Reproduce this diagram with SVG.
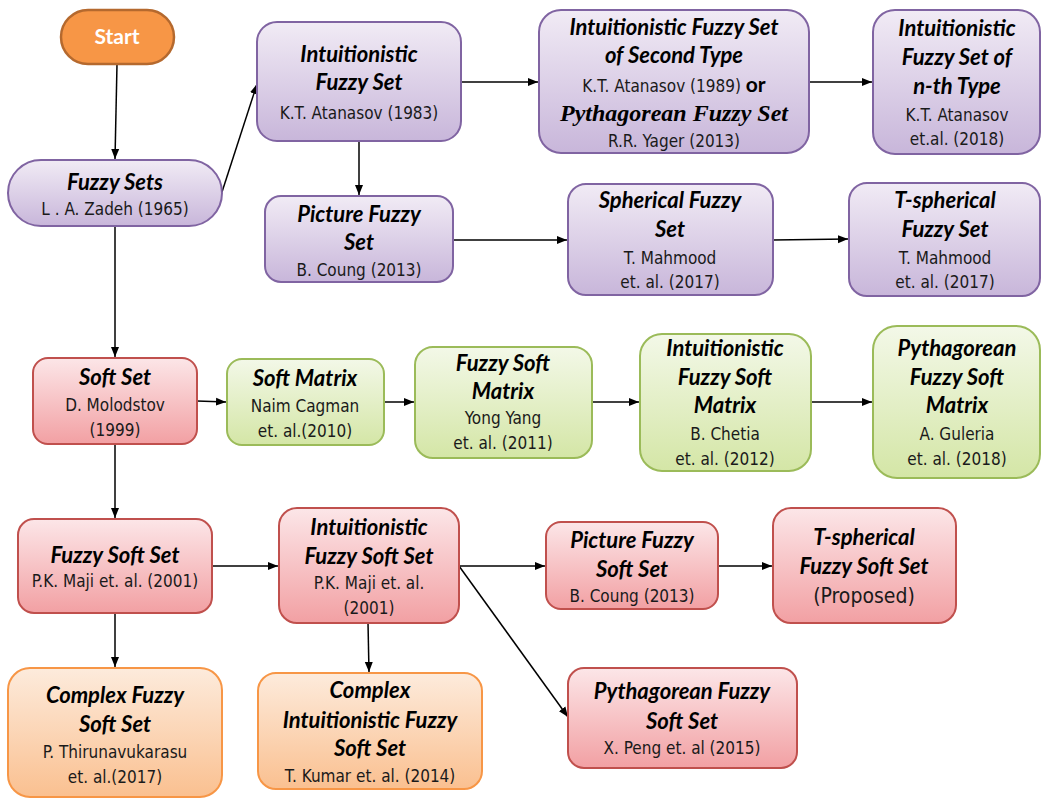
<svg xmlns="http://www.w3.org/2000/svg" width="1041" height="799" viewBox="0 0 1041 799">
<defs>
<linearGradient id="gP" x1="0" y1="0" x2="0" y2="1"><stop offset="0" stop-color="#F1EBF5"/><stop offset="1" stop-color="#C8B6DA"/></linearGradient>
<linearGradient id="gR" x1="0" y1="0" x2="0" y2="1"><stop offset="0" stop-color="#FCE6E8"/><stop offset="1" stop-color="#F2A0A3"/></linearGradient>
<linearGradient id="gG" x1="0" y1="0" x2="0" y2="1"><stop offset="0" stop-color="#F3F8E8"/><stop offset="1" stop-color="#D4E6A6"/></linearGradient>
<linearGradient id="gO" x1="0" y1="0" x2="0" y2="1"><stop offset="0" stop-color="#FDEBDC"/><stop offset="1" stop-color="#FAC090"/></linearGradient>
<marker id="ah" viewBox="0 0 10 10" refX="10" refY="5" markerWidth="10" markerHeight="10" markerUnits="userSpaceOnUse" orient="auto"><path d="M0,1 L10,5 L0,9 Z" fill="#000"/></marker>
<style>
.p{fill:url(#gP);stroke:#8064A2;stroke-width:2}
.r{fill:url(#gR);stroke:#C0504D;stroke-width:2}
.g{fill:url(#gG);stroke:#9BBB59;stroke-width:2}
.o{fill:url(#gO);stroke:#F79646;stroke-width:2}
.t{font-family:Lato,"Open Sans",sans-serif;font-weight:bold;font-style:italic;font-size:22px;fill:#000;text-anchor:middle}
.a{font-family:"Liberation Sans Narrow","DejaVu Sans Condensed","DejaVu Sans",sans-serif;font-stretch:condensed;font-size:17px;fill:#1a1a1a;text-anchor:middle}
.s{font-family:"Liberation Serif",serif;font-weight:bold;font-style:italic;font-size:24px;fill:#000;text-anchor:middle}
.or{font-family:Lato,"Open Sans",sans-serif;font-weight:bold;font-size:21px;fill:#000}
.c line{stroke:#000;stroke-width:1.5;fill:none;marker-end:url(#ah)}
</style>
</defs>
<rect width="1041" height="799" fill="#fff"/>
<g class="c">
<line x1="117" y1="64" x2="115" y2="159"/>
<line x1="222" y1="192" x2="257" y2="84"/>
<line x1="461" y1="82" x2="538" y2="82"/>
<line x1="359" y1="141" x2="359" y2="195"/>
<line x1="453" y1="240" x2="567" y2="240"/>
<line x1="773" y1="240" x2="848" y2="239"/>
<line x1="809" y1="82" x2="872" y2="82"/>
<line x1="115" y1="226" x2="115" y2="357"/>
<line x1="197" y1="401" x2="226" y2="402"/>
<line x1="384" y1="402" x2="414" y2="402"/>
<line x1="592" y1="402" x2="639" y2="402"/>
<line x1="811" y1="402" x2="872" y2="402"/>
<line x1="115" y1="444" x2="115" y2="518"/>
<line x1="212" y1="566" x2="278" y2="566"/>
<line x1="115" y1="613" x2="115" y2="667"/>
<line x1="368" y1="623" x2="369" y2="672"/>
<line x1="459" y1="566" x2="545" y2="566"/>
<line x1="459" y1="566" x2="568" y2="717"/>
<line x1="718" y1="566" x2="772" y2="566"/>
</g>
<g id="start"><rect x="61" y="10" width="113" height="54" rx="27" fill="#F79646" stroke="#B5692E" stroke-width="2.5"/><text x="117" y="44" style="font-family:Lato,'Open Sans',sans-serif;font-weight:bold;font-size:21px;fill:#fff;text-anchor:middle">Start</text></g>
<g id="fuzzy-sets"><rect class="p" x="8" y="160" width="214" height="66" rx="33"/><text class="t" x="115" y="190">Fuzzy Sets</text><text class="a" x="115" y="215">L . A.  Zadeh (1965)</text></g>
<g id="ifs"><rect class="p" x="257" y="22" width="204" height="119" rx="20"/><text class="t" x="359" y="62">Intuitionistic</text><text class="t" x="359" y="90">Fuzzy Set</text><text class="a" x="359" y="119">K.T. Atanasov (1983)</text></g>
<g id="picture-fs"><rect class="p" x="265" y="196" width="188" height="86" rx="16"/><text class="t" x="359" y="222">Picture Fuzzy</text><text class="t" x="359" y="250">Set</text><text class="a" x="359" y="276">B. Coung (2013)</text></g>
<g id="ifs2"><rect class="p" x="539" y="10" width="270" height="143" rx="22"/><text class="t" x="674" y="35">Intuitionistic Fuzzy Set</text><text class="t" x="674" y="63">of Second Type</text><text class="a" x="674" y="92">K.T.  Atanasov (1989) <tspan class="or">or</tspan></text><text class="s" x="674" y="121">Pythagorean Fuzzy Set</text><text class="a" x="674" y="147">R.R. Yager (2013)</text></g>
<g id="ifsn"><rect class="p" x="873" y="10" width="167" height="144" rx="22"/><text class="t" x="957" y="36">Intuitionistic</text><text class="t" x="957" y="65">Fuzzy Set of</text><text class="t" x="957" y="94">n-th Type</text><text class="a" x="957" y="121">K.T. Atanasov</text><text class="a" x="957" y="145">et.al. (2018)</text></g>
<g id="spherical"><rect class="p" x="568" y="184" width="205" height="111" rx="18"/><text class="t" x="670" y="208">Spherical Fuzzy</text><text class="t" x="670" y="237">Set</text><text class="a" x="670" y="264">T. Mahmood</text><text class="a" x="670" y="288">et. al. (2017)</text></g>
<g id="t-spherical"><rect class="p" x="849" y="183" width="191" height="113" rx="18"/><text class="t" x="945" y="208">T-spherical</text><text class="t" x="945" y="237">Fuzzy Set</text><text class="a" x="945" y="264">T. Mahmood</text><text class="a" x="945" y="288">et. al. (2017)</text></g>
<g id="soft-set"><rect class="r" x="33" y="358" width="164" height="86" rx="15"/><text class="t" x="115" y="385">Soft Set</text><text class="a" x="115" y="411">D. Molodstov</text><text class="a" x="115" y="436">(1999)</text></g>
<g id="soft-matrix"><rect class="g" x="227" y="359" width="157" height="86" rx="15"/><text class="t" x="305" y="386">Soft Matrix</text><text class="a" x="305" y="412">Naim Cagman</text><text class="a" x="305" y="437">et. al.(2010)</text></g>
<g id="fsm"><rect class="g" x="415" y="347" width="177" height="111" rx="18"/><text class="t" x="503" y="371">Fuzzy Soft</text><text class="t" x="503" y="399">Matrix</text><text class="a" x="503" y="424">Yong Yang</text><text class="a" x="503" y="449">et. al. (2011)</text></g>
<g id="ifsm"><rect class="g" x="640" y="334" width="171" height="137" rx="22"/><text class="t" x="725" y="356">Intuitionistic</text><text class="t" x="725" y="385">Fuzzy Soft</text><text class="t" x="725" y="413">Matrix</text><text class="a" x="725" y="440">B. Chetia</text><text class="a" x="725" y="465">et. al. (2012)</text></g>
<g id="pfsm"><rect class="g" x="873" y="326" width="167" height="152" rx="24"/><text class="t" x="957" y="356">Pythagorean</text><text class="t" x="957" y="385">Fuzzy Soft</text><text class="t" x="957" y="413">Matrix</text><text class="a" x="957" y="440">A. Guleria</text><text class="a" x="957" y="465">et. al. (2018)</text></g>
<g id="fss"><rect class="r" x="18" y="519" width="194" height="94" rx="16"/><text class="t" x="115" y="563">Fuzzy Soft Set</text><text class="a" x="115" y="587">P.K. Maji  et. al. (2001)</text></g>
<g id="ifss"><rect class="r" x="279" y="508" width="180" height="115" rx="18"/><text class="t" x="369" y="535">Intuitionistic</text><text class="t" x="369" y="564">Fuzzy Soft Set</text><text class="a" x="369" y="589">P.K. Maji et. al.</text><text class="a" x="369" y="614">(2001)</text></g>
<g id="picture-fss"><rect class="r" x="546" y="522" width="172" height="87" rx="15"/><text class="t" x="632" y="548">Picture Fuzzy</text><text class="t" x="632" y="577">Soft Set</text><text class="a" x="632" y="602">B. Coung (2013)</text></g>
<g id="t-spherical-fss"><rect class="r" x="773" y="508" width="183" height="115" rx="18"/><text class="t" x="864" y="545">T-spherical</text><text class="t" x="864" y="574">Fuzzy Soft Set</text><text class="a" x="864" y="603" style="font-size:21px">(Proposed)</text></g>
<g id="complex-fss"><rect class="o" x="8" y="668" width="214" height="129" rx="22"/><text class="t" x="115" y="703">Complex Fuzzy</text><text class="t" x="115" y="732">Soft Set</text><text class="a" x="115" y="758">P. Thirunavukarasu</text><text class="a" x="115" y="783">et. al.(2017)</text></g>
<g id="complex-ifss"><rect class="o" x="258" y="673" width="224" height="116" rx="18"/><text class="t" x="370" y="698">Complex</text><text class="t" x="370" y="728">Intuitionistic Fuzzy</text><text class="t" x="370" y="756">Soft Set</text><text class="a" x="370" y="782">T. Kumar et. al. (2014)</text></g>
<g id="pyth-fss"><rect class="r" x="568" y="668" width="229" height="100" rx="16"/><text class="t" x="682" y="699">Pythagorean Fuzzy</text><text class="t" x="682" y="729">Soft Set</text><text class="a" x="682" y="754">X. Peng et. al (2015)</text></g>
</svg>
